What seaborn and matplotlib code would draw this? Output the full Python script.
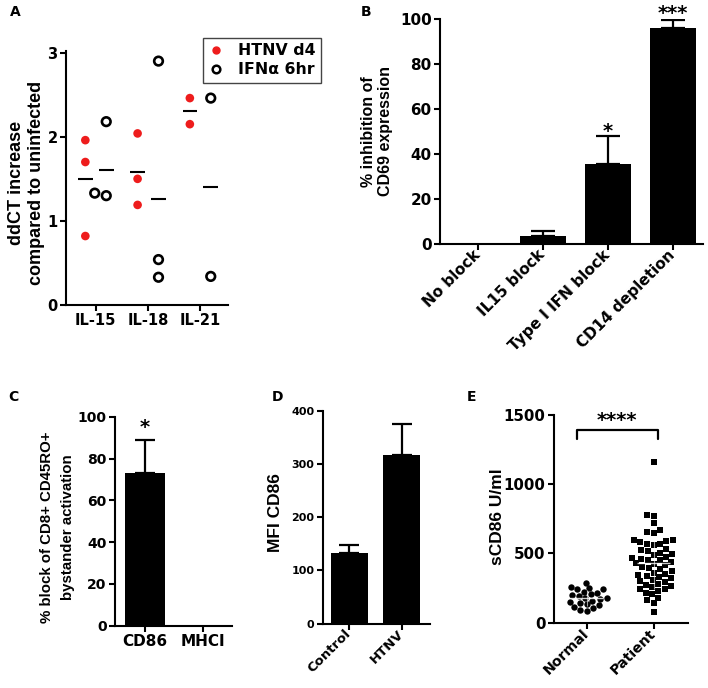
import numpy as np
import pandas as pd
import matplotlib
matplotlib.use("Agg")
import matplotlib.pyplot as plt
from matplotlib.lines import Line2D
import seaborn as sns

# ---- data ----
# A: ddCT increase per cytokine
cytokines = ['IL-15', 'IL-18', 'IL-21']
groups_a = ['HTNV d4', 'IFNα 6hr']
htnv_il15 = [1.96, 1.70, 0.82]
htnv_il18 = [2.04, 1.50, 1.19]
htnv_il21 = [2.46, 2.15]
ifn_il15 = [2.18, 1.30, 1.33]
ifn_il18 = [2.90, 0.54, 0.33]
ifn_il21 = [2.46, 0.34]

# B: % inhibition of CD69 expression
groups_b = ['No block', 'IL15 block', 'Type I IFN block', 'CD14 depletion']
means_b = [0, 3.5, 35.5, 96]
err_b = [0, 2.5, 12.5, 3.5]
stars_b = ['', '', '*', '***']

# C: % block of bystander activation
groups_c = ['CD86', 'MHCI']
means_c = [73, 0]
err_c = [16, 0]
stars_c = ['*', '']

# D: MFI CD86
groups_d = ['Control', 'HTNV']
means_d = [133, 317]
err_d = [14, 58]

# E: sCD86 U/ml
groups_e = ['Normal', 'Patient']
normal = [290, 255, 250, 245, 240, 225, 215, 205, 200, 190, 180,
          175, 170, 160, 150, 145, 135, 125, 115, 105, 95, 85]
patient = [1163, 778, 770, 720, 669, 657, 650,
           600, 595, 590, 580, 570, 565, 560, 535,
           525, 515, 505, 495, 490,
           475, 470, 460, 455, 450, 440, 430, 425, 415, 405, 395, 385,
           370, 360, 355, 345, 340, 330, 320, 310, 300, 295,
           280, 275, 265, 255, 245, 240, 230, 215, 205,
           180, 165, 145, 75]

sns.set_style("ticks")
plt.rcParams['font.family'] = ['DejaVu Sans']
plt.rcParams['font.weight'] = 'bold'
plt.rcParams['axes.linewidth'] = 1.5
for key in ['text.color', 'axes.labelcolor', 'axes.edgecolor',
            'xtick.color', 'ytick.color']:
    plt.rcParams[key] = 'black'
LAB_FONT = ['Liberation Sans', 'DejaVu Sans']

W, H = 708, 688
fig = plt.figure(figsize=(7.08, 6.88), dpi=100)


def px_axes(left, top, right, bottom):
    return fig.add_axes([left / W, 1 - bottom / H, (right - left) / W, (bottom - top) / H])


def style(ax, fs_y, fs_x):
    sns.despine(ax=ax)
    ax.tick_params(width=1.5, length=4.5, pad=1.5, color='black', labelcolor='black')
    ax.tick_params(axis='y', labelsize=fs_y)
    ax.tick_params(axis='x', labelsize=fs_x)
    for lab in ax.get_xticklabels() + ax.get_yticklabels():
        lab.set_fontweight('bold')
    ax.set_xlabel('')


def ylabel(ax, text, size, x, y, spacing=1.2):
    ax.set_ylabel(text, fontsize=size, fontweight='bold', family=LAB_FONT,
                  color='black', linespacing=spacing)
    ax.yaxis.set_label_coords(x, y)


def bar_panel(ax, names, means, errs, capsize):
    sns.barplot(x=names, y=means, color='black', width=0.7, linewidth=0,
                saturation=1, ax=ax, errorbar=None)
    for i, (m, e) in enumerate(zip(means, errs)):
        if e > 0:
            ax.errorbar(i, m, yerr=[[0], [e]], fmt='none', ecolor='black',
                        elinewidth=1.6, capsize=capsize, capthick=1.6)


def rotate(ax):
    for lab in ax.get_xticklabels():
        lab.set_rotation(45)
        lab.set_ha('right')
        lab.set_va('center')
        lab.set_rotation_mode('anchor')


# ---- panel A ----
axA = px_axes(66, 51, 228, 305)
rows = []
for cyt, h, f in zip(cytokines, [htnv_il15, htnv_il18, htnv_il21],
                     [ifn_il15, ifn_il18, ifn_il21]):
    rows += [(cyt, groups_a[0], v) for v in h]
    rows += [(cyt, groups_a[1], v) for v in f]
dfA = pd.DataFrame(rows, columns=['cytokine', 'group', 'value'])
sns.swarmplot(data=dfA, x='cytokine', y='value', hue='group', order=cytokines,
              hue_order=groups_a, dodge=True, size=6.2, linewidth=0,
              palette={groups_a[0]: '#ee1c1c', groups_a[1]: 'black'},
              legend=False, ax=axA)
for c in axA.collections:
    fc = c.get_facecolor()
    if len(fc) and np.allclose(fc[0][:3], 0):
        c.set_facecolor('none')
        c.set_edgecolor('black')
        c.set_linewidth(1.9)
means_a = dfA.groupby(['cytokine', 'group'])['value'].mean()
for i, cyt in enumerate(cytokines):
    for off, g in zip([-0.2, 0.2], groups_a):
        axA.hlines(means_a[(cyt, g)], i + off - 0.14, i + off + 0.14,
                   color='black', lw=1.5)
axA.set_xlim(-0.57, 2.53)
axA.set_ylim(0, 3.02)
axA.set_yticks([0, 1, 2, 3])
style(axA, 10.5, 10.5)
ylabel(axA, 'ddCT increase\ncompared to uninfected', 13, -0.13, 0.48)
handles = [Line2D([], [], marker='o', ls='none', color='#ee1c1c', markersize=5),
           Line2D([], [], marker='o', ls='none', mfc='none', mec='black',
                  mew=1.8, markersize=5.5)]
leg = axA.legend(handles, groups_a, loc='upper left',
                 bbox_to_anchor=(203 / W, 1 - 38 / H), bbox_transform=fig.transFigure,
                 borderaxespad=0, fancybox=False, framealpha=1, edgecolor='#444444',
                 handlelength=1.0, handletextpad=0.9, borderpad=0.35, labelspacing=0.25,
                 prop={'size': 11.3, 'weight': 'bold'})
leg.get_frame().set_linewidth(1.0)

# ---- panel B ----
axB = px_axes(440, 19, 703, 244)
bar_panel(axB, groups_b, means_b, err_b, 8.5)
axB.set_xlim(-0.58, 3.46)
axB.set_ylim(0, 100)
axB.set_yticks(range(0, 101, 20))
style(axB, 10.9, 11)
rotate(axB)
for i, s in enumerate(stars_b):
    if s:
        axB.text(i, means_b[i] + err_b[i] + 0.5 if s == '***' else 47.5, s,
                 ha='center', va='baseline', fontsize=14, fontweight='bold',
                 clip_on=False)
ylabel(axB, '% inhibition of\nCD69 expression', 11.5, -0.179, 0.5)

# ---- panel C ----
axC = px_axes(115, 416.7, 232, 625.7)
bar_panel(axC, groups_c, means_c, err_c, 7)
axC.set_xlim(-0.52, 1.5)
axC.set_ylim(0, 100)
axC.set_yticks(range(0, 101, 20))
style(axC, 10, 11)
axC.text(0, 92, stars_c[0], ha='center', va='baseline', fontsize=14,
         fontweight='bold', clip_on=False)
ylabel(axC, '% block of CD8+ CD45RO+\nbystander activation', 10.8, -0.342, 0.47,
       spacing=1.6)

# ---- panel D ----
axD = px_axes(322.7, 410.7, 430, 623.7)
bar_panel(axD, groups_d, means_d, err_d, 7)
axD.set_xlim(-0.5, 1.53)
axD.set_ylim(0, 400)
axD.set_yticks(range(0, 401, 100))
style(axD, 8, 9.5)
rotate(axD)
ylabel(axD, 'MFI CD86', 12.5, -0.37, 0.524)

# ---- panel E ----
axE = px_axes(554, 415, 687.7, 622.7)
sns.swarmplot(x=['Normal'] * len(normal), y=normal, order=groups_e, color='black',
              marker='o', size=4.6, linewidth=0, ax=axE)
sns.swarmplot(x=['Patient'] * len(patient), y=patient, order=groups_e, color='black',
              marker='s', size=4.8, linewidth=0, ax=axE)
for i, vals in enumerate([normal, patient]):
    m, sd = np.mean(vals), np.std(vals, ddof=1)
    axE.hlines(m, i - 0.25, i + 0.25, color='white', lw=1.0, alpha=0.8, zorder=5)
    axE.vlines(i, m - sd, m + sd, color='white', lw=0.8, alpha=0.6, zorder=5)
axE.plot([-0.15, -0.15, 1.06, 1.06], [1327, 1392, 1392, 1327], color='black',
         lw=1.6, clip_on=False)
axE.text(0.45, 1417, '****', ha='center', va='baseline', fontsize=14,
         fontweight='bold', clip_on=False)
axE.set_xlim(-0.49, 1.51)
axE.set_ylim(0, 1500)
axE.set_yticks([0, 500, 1000, 1500])
style(axE, 10.8, 10.2)
rotate(axE)
ylabel(axE, 'sCD86 U/ml', 12.5, -0.366, 0.51)

# panel letters
for letter, x, y in [('A', 10, 5), ('B', 361, 5), ('C', 8, 390), ('D', 272, 390),
                     ('E', 467, 390)]:
    fig.text(x / W, 1 - y / H, letter, ha='left', va='top', fontsize=10,
             fontweight='bold')

fig.savefig('out.png', dpi=100)
